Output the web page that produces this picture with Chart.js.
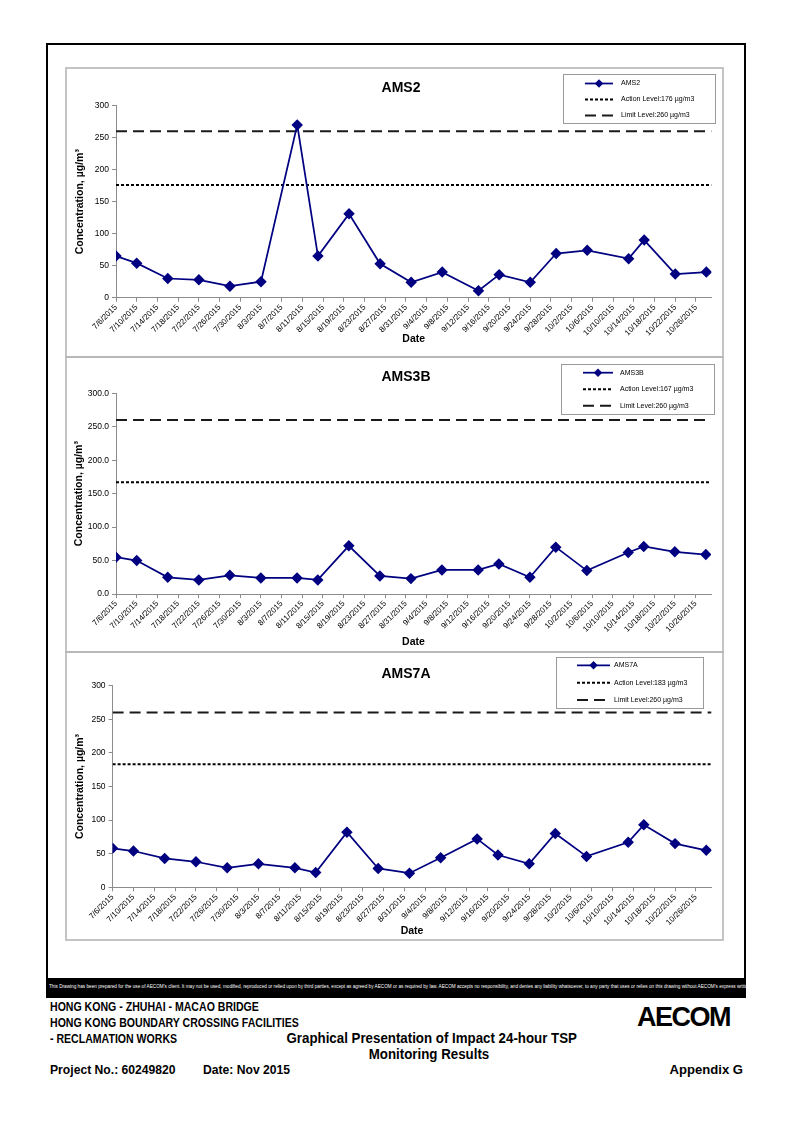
<!DOCTYPE html>
<html>
<head>
<meta charset="utf-8">
<title>Graphical Presentation of Impact 24-hour TSP Monitoring Results</title>
<script src="https://cdn.jsdelivr.net/npm/chart.js@4.4.0/dist/chart.umd.min.js"></script>
<style>
  body { margin: 0; width: 794px; height: 1122px; position: relative; background: #fff; font-family: "Liberation Sans", Arial, sans-serif; }
  .abs { position: absolute; }
  #frame { left: 46px; top: 43px; width: 700px; height: 955px; border: 2px solid #000; box-sizing: border-box; }
  #band { left: 46px; top: 978px; width: 700px; height: 20px; background: #000; overflow: hidden; }
  #band span { position: absolute; left: 3px; top: 5px; color: #fff; font-family: "Liberation Sans", Arial, sans-serif; font-size: 6px; white-space: nowrap; transform: scaleX(0.78); transform-origin: left top; }
  #panel { left: 65px; top: 67px; width: 659px; height: 874px; border: 2px solid #c4c4c4; box-sizing: border-box; }
  .sep { left: 65px; width: 659px; height: 2px; background: #b8b8b8; }
  canvas { position: absolute; }
  .ft { position: absolute; font-family: "Liberation Sans", Arial, sans-serif; font-weight: bold; color: #000; white-space: nowrap; transform-origin: left top; }
  .sq88 { transform: scaleX(0.88); }
  .sq90 { transform: scaleX(0.9); }
  .sq95 { transform: scaleX(0.95); transform-origin: center top; }
  #logo { position: absolute; left: 637px; top: 1004px; font-family: "Liberation Sans", Arial, sans-serif; font-weight: bold; font-size: 27px; letter-spacing: -1.5px; line-height: 27px; }
</style>
</head>
<body>
<div id="frame" class="abs"></div>
<div id="panel" class="abs"></div>
<div class="abs sep" style="top:356px"></div>
<div class="abs sep" style="top:651px"></div>

<canvas id="chartAms2" width="656" height="288" style="left:66px;top:68px"></canvas>
<canvas id="chartAms3b" width="656" height="293" style="left:66px;top:358px"></canvas>
<canvas id="chartAms7a" width="656" height="286" style="left:66px;top:653px"></canvas>

<div id="band" class="abs"><span>This Drawing has been prepared for the use of AECOM's client. It may not be used, modified, reproduced or relied upon by third parties, except as agreed by AECOM or as required by law. AECOM accepts no responsibility, and denies any liability whatsoever, to any party that uses or relies on this drawing without AECOM's express written consent.</span></div>

<div class="ft sq88" style="left:50px;top:1000px;font-size:12px">HONG KONG - ZHUHAI - MACAO BRIDGE</div>
<div class="ft sq88" style="left:50px;top:1016px;font-size:12px">HONG KONG BOUNDARY CROSSING FACILITIES</div>
<div class="ft sq88" style="left:50px;top:1032px;font-size:12px">- RECLAMATION WORKS</div>
<div class="ft sq95" style="left:279px;top:1030px;width:300px;text-align:center;font-size:14px">Graphical Presentation of Impact 24-hour TSP</div>
<div class="ft sq95" style="left:279px;top:1046px;width:300px;text-align:center;font-size:14px">Monitoring Results</div>
<div class="ft sq90" style="left:50px;top:1062px;font-size:13.5px">Project No.: 60249820</div>
<div class="ft sq90" style="left:203px;top:1062px;font-size:13.5px">Date: Nov 2015</div>
<div class="ft" style="left:600px;top:1062px;width:143px;text-align:right;font-size:13.5px;transform:scaleX(0.97);transform-origin:right top">Appendix G</div>
<div id="logo">AECOM</div>

<script>
// sampling dates (same for the three stations)
const sampleDates = ['7/6/2015', '7/10/2015', '7/16/2015', '7/22/2015', '7/28/2015', '8/3/2015', '8/10/2015',
    '8/14/2015', '8/20/2015', '8/26/2015', '9/1/2015', '9/7/2015', '9/14/2015', '9/18/2015', '9/24/2015',
    '9/29/2015', '10/5/2015', '10/13/2015', '10/16/2015', '10/22/2015', '10/28/2015'];

const ams2Values = [65, 54, 30, 28, 18, 25, 270, 65, 131, 53, 24, 40, 11, 36, 24, 69, 74, 61, 90, 37, 40];
const ams3bValues = [55, 50, 25, 21, 28, 24, 24, 21, 72, 27, 23, 36, 36, 45, 25, 70, 35, 62, 71, 63, 59];
const ams7aValues = [58, 54, 43, 38, 29, 35, 29, 22, 82, 28, 21, 44, 72, 48, 35, 80, 46, 67, 93, 65, 55];

const actionLevels = { AMS2: 176, AMS3B: 167, AMS7A: 183 };
const limitLevel = 260;

const tickLabels = ['7/6/2015', '7/10/2015', '7/14/2015', '7/18/2015', '7/22/2015', '7/26/2015', '7/30/2015',
    '8/3/2015', '8/7/2015', '8/11/2015', '8/15/2015', '8/19/2015', '8/23/2015', '8/27/2015', '8/31/2015',
    '9/4/2015', '9/8/2015', '9/12/2015', '9/16/2015', '9/20/2015', '9/24/2015', '9/28/2015', '10/2/2015',
    '10/6/2015', '10/10/2015', '10/14/2015', '10/18/2015', '10/22/2015', '10/26/2015'];
const axisStart = '7/6/2015';
const axisEnd = '10/29/2015';

const yTicks = [0, 50, 100, 150, 200, 250, 300];

function dayOf(str) {
    const p = str.split('/');
    const base = Date.UTC(2015, 6, 6);
    return Math.round((Date.UTC(parseInt(p[2]), parseInt(p[0]) - 1, parseInt(p[1])) - base) / 86400000);
}

const tickDays = tickLabels.map(dayOf);
const xMin = dayOf(axisStart);
const xMax = dayOf(axisEnd);

// draws the chart title and the boxed legend like the Excel original
const panelDecor = {
    id: 'panelDecor',
    afterDraw(chart, args, opts) {
        const ctx = chart.ctx;
        ctx.save();
        ctx.fillStyle = '#000';
        ctx.textAlign = 'center';
        ctx.textBaseline = 'middle';
        ctx.font = 'bold 14px "Liberation Sans", Arial, sans-serif';
        ctx.fillText(opts.title, opts.titleX, opts.titleY);

        const b = opts.box;
        ctx.fillStyle = '#fff';
        ctx.fillRect(b.x, b.y, b.w, b.h);
        ctx.strokeStyle = '#9a9a9a';
        ctx.lineWidth = 1;
        ctx.strokeRect(b.x + 0.5, b.y + 0.5, b.w, b.h);

        chart.data.datasets.forEach(function (ds, i) {
            const y = b.y + opts.rows[i];
            ctx.strokeStyle = ds.borderColor;
            ctx.lineWidth = ds.borderWidth;
            ctx.setLineDash(ds.borderDash || []);
            ctx.beginPath();
            ctx.moveTo(b.x + opts.lineX[0], y);
            ctx.lineTo(b.x + opts.lineX[1], y);
            ctx.stroke();
            ctx.setLineDash([]);
            if (ds.pointRadius) {
                ctx.fillStyle = ds.backgroundColor;
                Chart.helpers.drawPoint(ctx, { pointStyle: ds.pointStyle, radius: 3, borderWidth: 1 },
                    b.x + (opts.lineX[0] + opts.lineX[1]) / 2, y);
            }
            ctx.fillStyle = '#000';
            ctx.textAlign = 'left';
            ctx.font = '7px "Liberation Sans", Arial, sans-serif';
            ctx.fillText(ds.label, b.x + opts.textX, y);
        });
        ctx.restore();
    }
};

function buildChart(canvasId, station, values, decimals, lay) {
    const points = sampleDates.map(function (d, i) { return { x: dayOf(d), y: values[i] }; });
    const action = actionLevels[station];

    return new Chart(document.getElementById(canvasId).getContext('2d'), {
        type: 'line',
        data: {
            datasets: [{
                label: station,
                data: points,
                borderColor: '#000080',
                backgroundColor: '#000080',
                borderWidth: 1.75,
                pointStyle: 'rectRot',
                pointRadius: 4.5,
                pointHoverRadius: 4.5,
                tension: 0
            }, {
                label: 'Action Level:' + action + ' µg/m3',
                data: [{ x: xMin, y: action }, { x: xMax, y: action }],
                borderColor: '#000',
                borderWidth: 2,
                borderDash: [3, 2],
                pointRadius: 0
            }, {
                label: 'Limit Level:' + limitLevel + ' µg/m3',
                data: [{ x: xMin, y: limitLevel }, { x: xMax, y: limitLevel }],
                borderColor: '#1a1a1a',
                borderWidth: 2,
                borderDash: [11, 6],
                pointRadius: 0
            }]
        },
        options: {
            responsive: false,
            animation: false,
            layout: { padding: lay.padding },
            scales: {
                x: {
                    type: 'linear',
                    min: xMin,
                    max: xMax,
                    afterBuildTicks: function (s) { s.ticks = tickDays.map(function (v) { return { value: v }; }); },
                    afterFit: function (s) { s.height = lay.xHeight; },
                    ticks: {
                        autoSkip: false,
                        minRotation: 45,
                        maxRotation: 45,
                        padding: 1,
                        color: '#000',
                        font: { size: 8, family: '"Liberation Sans", Arial, sans-serif' },
                        callback: function (v) { return tickLabels[tickDays.indexOf(v)]; }
                    },
                    grid: { drawOnChartArea: false, drawTicks: true, tickLength: 4, color: '#8c8c8c' },
                    border: { display: true, color: '#8c8c8c', width: 1 },
                    title: {
                        display: true,
                        text: 'Date',
                        color: '#000',
                        font: { size: 10.5, weight: 'bold', family: '"Liberation Sans", Arial, sans-serif' },
                        padding: { top: 0, bottom: lay.dateBottom }
                    }
                },
                y: {
                    min: 0,
                    max: 300,
                    afterBuildTicks: function (s) { s.ticks = yTicks.map(function (v) { return { value: v }; }); },
                    afterFit: function (s) { s.width = lay.yWidth; },
                    ticks: {
                        padding: 3,
                        color: '#000',
                        font: { size: 8.5, family: '"Liberation Sans", Arial, sans-serif' },
                        callback: function (v) { return v.toFixed(decimals); }
                    },
                    grid: { drawOnChartArea: false, drawTicks: true, tickLength: 4, color: '#8c8c8c' },
                    border: { display: true, color: '#8c8c8c', width: 1 },
                    title: {
                        display: true,
                        text: 'Concentration, µg/m³',
                        color: '#000',
                        font: { size: 10.5, weight: 'bold', family: '"Liberation Sans", Arial, sans-serif' },
                        padding: { top: lay.concTop, bottom: 0 }
                    }
                }
            },
            plugins: {
                legend: { display: false },
                tooltip: { enabled: false },
                panelDecor: lay.decor
            }
        },
        plugins: [panelDecor]
    });
}

buildChart('chartAms2', 'AMS2', ams2Values, 0, {
    padding: { top: 37.7, right: 10.5, bottom: 0, left: 0 },
    yWidth: 50, xHeight: 58.3, dateBottom: 10.7, concTop: 7.7,
    decor: { title: 'AMS2', titleX: 335, titleY: 20, box: { x: 497, y: 6, w: 152, h: 49 },
        rows: [9.5, 25.5, 41.5], lineX: [22, 50], textX: 58 }
});

buildChart('chartAms3b', 'AMS3B', ams3bValues, 1, {
    padding: { top: 35.3, right: 11, bottom: 0, left: 0 },
    yWidth: 50, xHeight: 57, dateBottom: 3, concTop: 6.7,
    decor: { title: 'AMS3B', titleX: 340, titleY: 19.3, box: { x: 495, y: 6, w: 153, h: 50 },
        rows: [8.7, 25.3, 41.7], lineX: [22, 52], textX: 59 }
});

buildChart('chartAms7a', 'AMS7A', ams7aValues, 0, {
    padding: { top: 32.7, right: 10.5, bottom: 0, left: 0 },
    yWidth: 46.6, xHeight: 51.7, dateBottom: 1.7, concTop: 7.5,
    decor: { title: 'AMS7A', titleX: 340, titleY: 21, box: { x: 490, y: 4, w: 147, h: 51 },
        rows: [8.3, 25.7, 43], lineX: [21, 54], textX: 58 }
});
</script>
</body>
</html>
